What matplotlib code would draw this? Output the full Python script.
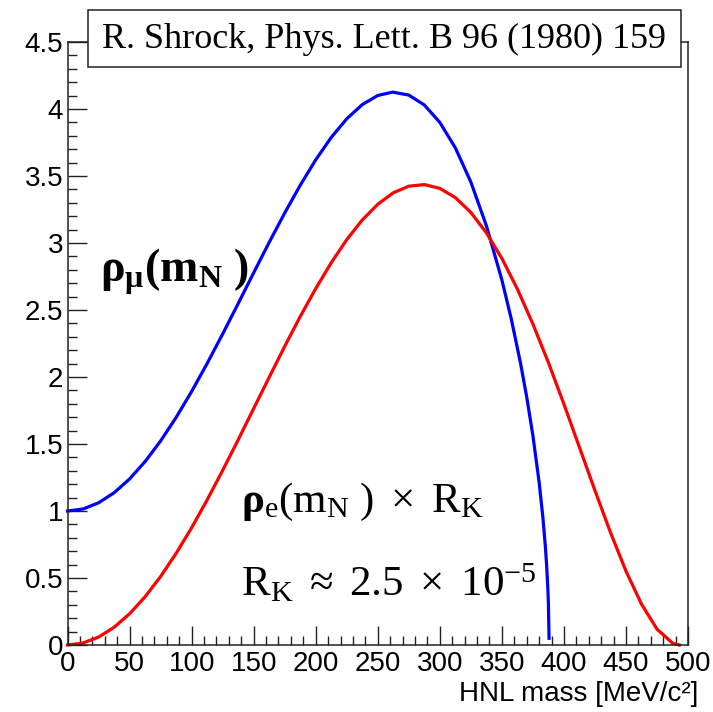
import matplotlib
matplotlib.use("Agg")
import matplotlib.pyplot as plt
from matplotlib.patches import Rectangle
from matplotlib.ticker import MultipleLocator

# values
mass_mu = [0, 12.5, 25, 37.5, 50, 62.5, 75, 87.5, 100, 112.5, 125, 137.5, 150,
           162.5, 175, 187.5, 200, 212.5, 225, 237.5, 250, 262, 275, 287.5, 300,
           312.5, 325, 337.5, 350, 357.5, 365, 370, 375, 380, 383, 385, 386,
           387, 387.5, 388]
rho_mu = [1.000, 1.015, 1.061, 1.136, 1.239, 1.369, 1.523, 1.698, 1.892, 2.101,
          2.321, 2.548, 2.778, 3.005, 3.224, 3.431, 3.621, 3.788, 3.927, 4.033,
          4.101, 4.126, 4.104, 4.030, 3.900, 3.710, 3.455, 3.129, 2.724, 2.436,
          2.104, 1.851, 1.562, 1.215, 0.955, 0.738, 0.602, 0.427, 0.305, 0.05]

mass_e = [0, 12.5, 25, 37.5, 50, 62.5, 75, 87.5, 100, 112.5, 125, 137.5, 150,
          162.5, 175, 187.5, 200, 212.5, 225, 237.5, 250, 262.5, 275, 287.5,
          300, 312.5, 325, 337.5, 350, 362.5, 375, 387.5, 400, 412.5, 425,
          437.5, 450, 462.5, 475, 487.5, 493]
rho_e_rk = [0.0, 0.015, 0.059, 0.132, 0.233, 0.360, 0.511, 0.684, 0.875, 1.083,
            1.303, 1.531, 1.765, 1.998, 2.229, 2.451, 2.660, 2.853, 3.025, 3.172,
            3.289, 3.375, 3.424, 3.436, 3.408, 3.339, 3.228, 3.076, 2.885, 2.656,
            2.395, 2.107, 1.797, 1.475, 1.152, 0.840, 0.551, 0.305, 0.118, 0.014,
            0.0]

xticks = [0, 50, 100, 150, 200, 250, 300, 350, 400, 450, 500]
yticks = [0, 0.5, 1, 1.5, 2, 2.5, 3, 3.5, 4, 4.5]

plt.rcParams['font.family'] = ['Liberation Sans', 'DejaVu Sans']
plt.rcParams['mathtext.fontset'] = 'custom'
plt.rcParams['mathtext.rm'] = 'Liberation Serif'
plt.rcParams['mathtext.it'] = 'Liberation Serif:italic'
plt.rcParams['mathtext.bf'] = 'Liberation Serif:bold'

fig = plt.figure(figsize=(7.13, 7.12), dpi=100)
ax = fig.add_axes([0.0947, 0.0941, 0.8703, 0.8469])

ax.plot(mass_mu, rho_mu, color='#0000ff', lw=2.3, clip_on=False)
ax.plot(mass_e, rho_e_rk, color='#ff0000', lw=2.3, clip_on=False)

ax.set_xlim(0, 500)
ax.set_ylim(0, 4.5)
ax.set_xticks(xticks)
ax.set_xticklabels([str(t) for t in xticks])
ax.set_yticks(yticks)
ax.set_yticklabels(['0', '0.5', '1', '1.5', '2', '2.5', '3', '3.5', '4', '4.5'])
ax.xaxis.set_minor_locator(MultipleLocator(10))
ax.yaxis.set_minor_locator(MultipleLocator(0.1))
ax.tick_params(which='major', direction='in', length=13.5, width=1.0,
               labelsize=20, color='#222222', top=False, right=False)
ax.tick_params(which='minor', direction='in', length=6.5, width=1.0,
               color='#222222', top=False, right=False)
ax.tick_params(axis='x', pad=4)
ax.tick_params(axis='y', pad=3)
for s in ax.spines.values():
    s.set_linewidth(1.1)
    s.set_color('#222222')

fig.text(698 / 713, 1 - 701 / 712, 'HNL mass [MeV/c²]', fontsize=20,
         ha='right', va='baseline')

# reference box on top of the frame
fig.patches.append(Rectangle((88 / 713, 1 - 67 / 712), 593 / 713, 57 / 712,
                             transform=fig.transFigure, facecolor='white',
                             edgecolor='#222222', lw=1.1, zorder=5))
fig.text(384.5 / 713, 1 - 39 / 712, 'R. Shrock, Phys. Lett. B 96 (1980) 159',
         family='Liberation Serif', fontsize=26, ha='center', va='center',
         zorder=6)

ax.text(26.5, 2.71,
        r'$\mathbf{ρ}_{\mathbf{μ}}\mathbf{(m}_{\mathbf{N}}\mathbf{\ )}$',
        fontsize=33, ha='left', va='baseline')
ax.text(139.5, 0.99,
        r'$\mathbf{ρ}_{\mathrm{e}}\mathrm{(m}_{\mathrm{N}}\mathrm{\ )}'
        r'\ \times\ \mathrm{R}_{\mathrm{K}}$',
        fontsize=31, ha='left', va='baseline')
ax.text(139.5, 0.36,
        r'$\mathrm{R}_{\mathrm{K}}\ \approx\ \mathrm{2.5}\ \times\ \mathrm{10}^{\mathrm{−5}}$',
        fontsize=31, ha='left', va='baseline')

plt.savefig('out.png', dpi=100)
